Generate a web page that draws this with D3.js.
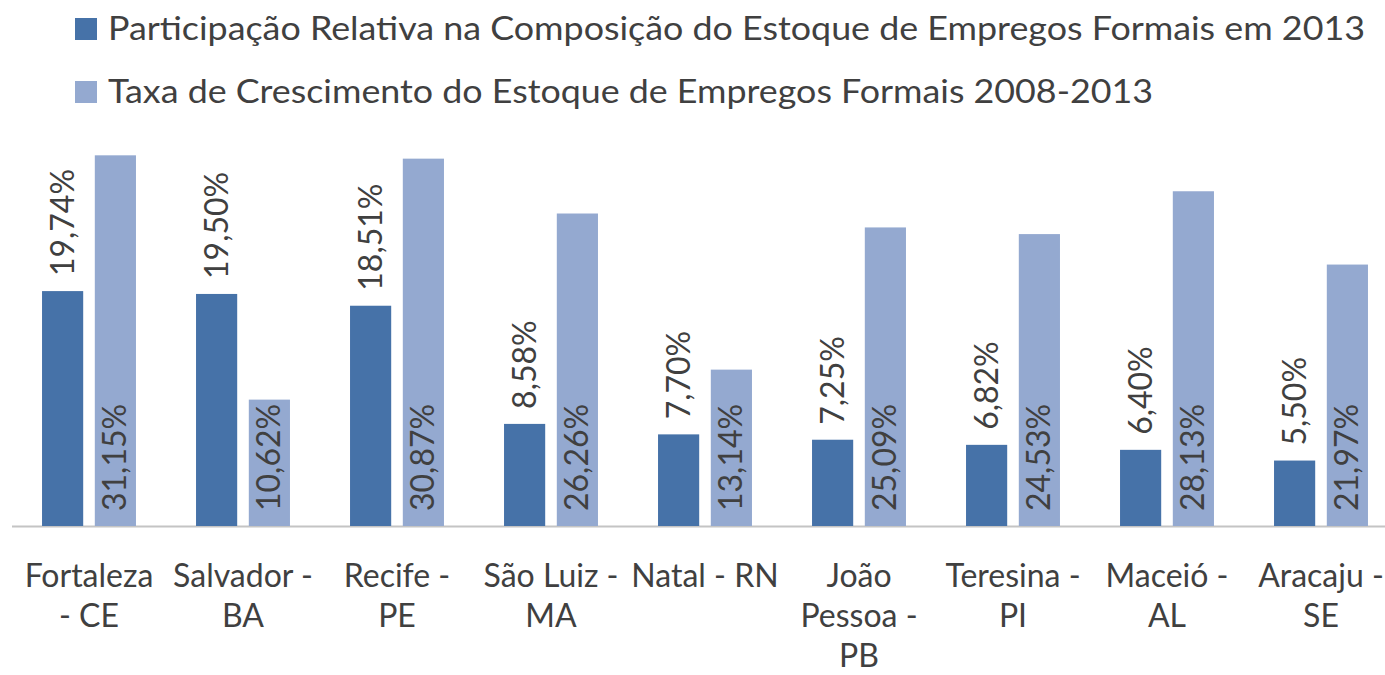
<!DOCTYPE html>
<html>
<head>
<meta charset="utf-8">
<script src="https://cdn.jsdelivr.net/npm/d3@7"></script>
<style>
  body { margin: 0; background: #fff; }
  svg { display: block; }
  text { font-family: Lato, "Open Sans", sans-serif; fill: #404040; }
</style>
</head>
<body>
<div id="chart"></div>
<script>
// data
const categories = [
  ["Fortaleza", "- CE"],
  ["Salvador -", "BA"],
  ["Recife -", "PE"],
  ["São Luiz -", "MA"],
  ["Natal - RN"],
  ["João", "Pessoa -", "PB"],
  ["Teresina -", "PI"],
  ["Maceió -", "AL"],
  ["Aracaju -", "SE"]
];
const participacao = [19.74, 19.50, 18.51, 8.58, 7.70, 7.25, 6.82, 6.40, 5.50];
const crescimento = [31.15, 10.62, 30.87, 26.26, 13.14, 25.09, 24.53, 28.13, 21.97];
const seriesNames = [
  "Participação Relativa na Composição do Estoque de Empregos Formais em 2013",
  "Taxa de Crescimento do Estoque de Empregos Formais 2008-2013"
];
const colors = ["#4672a8", "#94a9d0"];

const W = 1385, H = 675;
const baseY = 526;
const fs = 32;

var svg = d3.select("#chart").append("svg")
    .attr("width", W)
    .attr("height", H);

var keys = categories.map((c, i) => "c" + i);

var x = d3.scaleBand()
    .domain(keys)
    .range([12, 1398])
    .paddingInner(0.39)
    .paddingOuter(0.195);

var xs = d3.scaleBand()
    .domain([0, 1])
    .range([0, x.bandwidth()])
    .paddingInner(0.22);

var y = d3.scaleLinear()
    .domain([0, 35])
    .range([baseY, baseY - 35 * 11.9]);

// axis line
svg.append("line")
    .attr("x1", 12).attr("x2", W)
    .attr("y1", baseY + 0.5).attr("y2", baseY + 0.5)
    .attr("stroke", "#c4c4c4")
    .attr("stroke-width", 2);

var rows = keys.map((k, i) => ({ k: k, vals: [participacao[i], crescimento[i]] }));

var g = svg.selectAll(".grp")
    .data(rows)
    .enter().append("g")
    .attr("class", "grp")
    .attr("transform", d => "translate(" + x(d.k) + ",0)");

g.selectAll("rect")
    .data(d => d.vals.map((v, s) => ({ v: v, s: s })))
    .enter().append("rect")
    .attr("x", d => xs(d.s))
    .attr("width", xs.bandwidth())
    .attr("y", d => y(d.v))
    .attr("height", d => baseY - y(d.v))
    .attr("fill", d => colors[d.s]);

var fmt = v => v.toFixed(2).replace(".", ",") + "%";

// labels for series 1: above the bar, rotated
g.append("text")
    .attr("transform", d => "translate(" + (xs(0) + xs.bandwidth() / 2 + 11) + "," + (y(d.vals[0]) - 15) + ") rotate(-90)")
    .attr("font-size", fs)
    .text(d => fmt(d.vals[0]));

// labels for series 2: inside the bar, at its base
g.append("text")
    .attr("transform", d => "translate(" + (xs(1) + xs.bandwidth() / 2 + 11) + "," + (baseY - 15) + ") rotate(-90)")
    .attr("font-size", fs)
    .text(d => fmt(d.vals[1]));

// category labels
var cat = svg.selectAll(".cat")
    .data(categories)
    .enter().append("text")
    .attr("class", "cat")
    .attr("text-anchor", "middle")
    .attr("font-size", fs)
    .attr("transform", (d, i) => "translate(" + (x(keys[i]) + x.bandwidth() / 2) + ",0)");

cat.selectAll("tspan")
    .data(d => d)
    .enter().append("tspan")
    .attr("x", 0)
    .attr("y", (d, i) => 587 + i * 40)
    .text(d => d);

// legend
var leg = svg.selectAll(".leg")
    .data(seriesNames)
    .enter().append("g")
    .attr("class", "leg")
    .attr("transform", (d, i) => "translate(75," + (18 + i * 63) + ")");

leg.append("rect")
    .attr("width", 22).attr("height", 22)
    .attr("fill", (d, i) => colors[i]);

leg.append("text")
    .attr("x", 33)
    .attr("y", 22)
    .attr("font-size", fs)
    .attr("textLength", (d, i) => i === 0 ? 1257 : 1045)
    .attr("lengthAdjust", "spacingAndGlyphs")
    .text(d => d);
</script>
</body>
</html>
